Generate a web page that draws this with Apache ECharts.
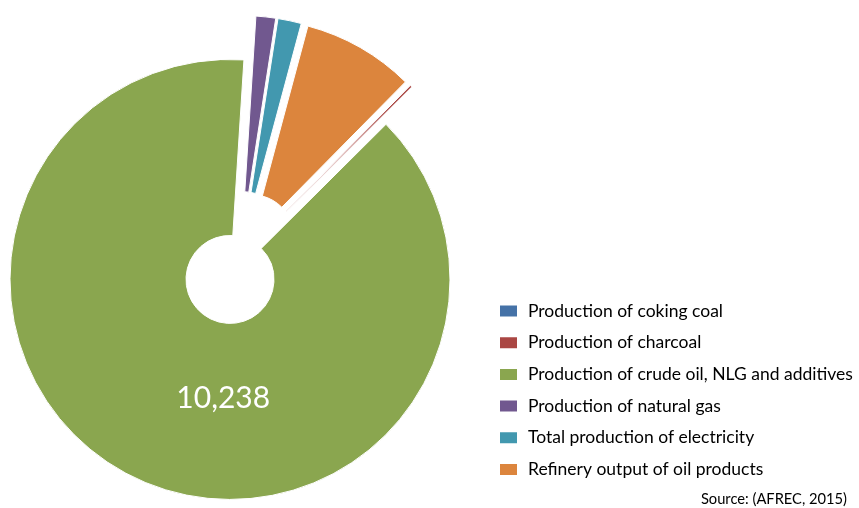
<!DOCTYPE html>
<html>
<head>
<meta charset="utf-8">
<script src="https://cdn.jsdelivr.net/npm/echarts@6/dist/echarts.min.js"></script>
<style>
  html, body { margin: 0; padding: 0; background: #fff; }
  #chart { width: 859px; height: 508px; }
</style>
</head>
<body>
<div id="chart"></div>
<script>
const categories = [
  'Production of coking coal',
  'Production of charcoal',
  'Production of crude oil, NLG and additives',
  'Production of natural gas',
  'Total production of electricity',
  'Refinery output of oil products'
];
const values = [0, 18, 10238, 167, 199, 951];
const colors = ['#4572A7', '#AA4643', '#8AA64F', '#71588F', '#4298AF', '#DC853D'];
const labelled = 'Production of crude oil, NLG and additives';
const sourceText = 'Source: (AFREC, 2015)';

const chart = echarts.init(document.getElementById('chart'));

const option = {
  animation: false,
  backgroundColor: '#fff',
  textStyle: { fontFamily: 'Lato' },
  title: {
    text: sourceText,
    right: 7,
    top: 487,
    textStyle: { fontFamily: 'Lato', fontSize: 14.7, fontWeight: 'normal', color: '#000' }
  },
  legend: {
    orient: 'vertical',
    left: 493,
    top: 297,
    itemWidth: 19,
    itemHeight: 13,
    itemGap: 13.7,
    icon: 'rect',
    selectedMode: false,
    textStyle: { fontFamily: 'Lato', fontSize: 17.5, color: '#000', padding: [0, 0, 0, 5] },
    data: categories
  },
  series: [
    {
      type: 'pie',
      center: [239.5, 258.5],
      radius: [44, 220],
      startAngle: 45.4,
      clockwise: true,
      selectedMode: 'multiple',
      selectedOffset: 23,
      silent: true,
      avoidLabelOverlap: false,
      itemStyle: { borderColor: '#fff', borderWidth: 1 },
      select: { itemStyle: { borderColor: '#fff', borderWidth: 1 } },
      label: { show: false },
      labelLine: { show: false },
      labelLayout: { dx: 49, dy: -4 },
      data: categories.map((name, i) => ({
        name: name,
        value: values[i],
        selected: true,
        itemStyle: { color: colors[i] },
        label: name === labelled ? {
          show: true,
          position: 'inside',
          formatter: p => echarts.format.addCommas(p.value),
          color: '#fff',
          fontFamily: 'Lato',
          fontSize: 30
        } : { show: false }
      }))
    }
  ]
};

chart.setOption(option);
</script>
</body>
</html>
